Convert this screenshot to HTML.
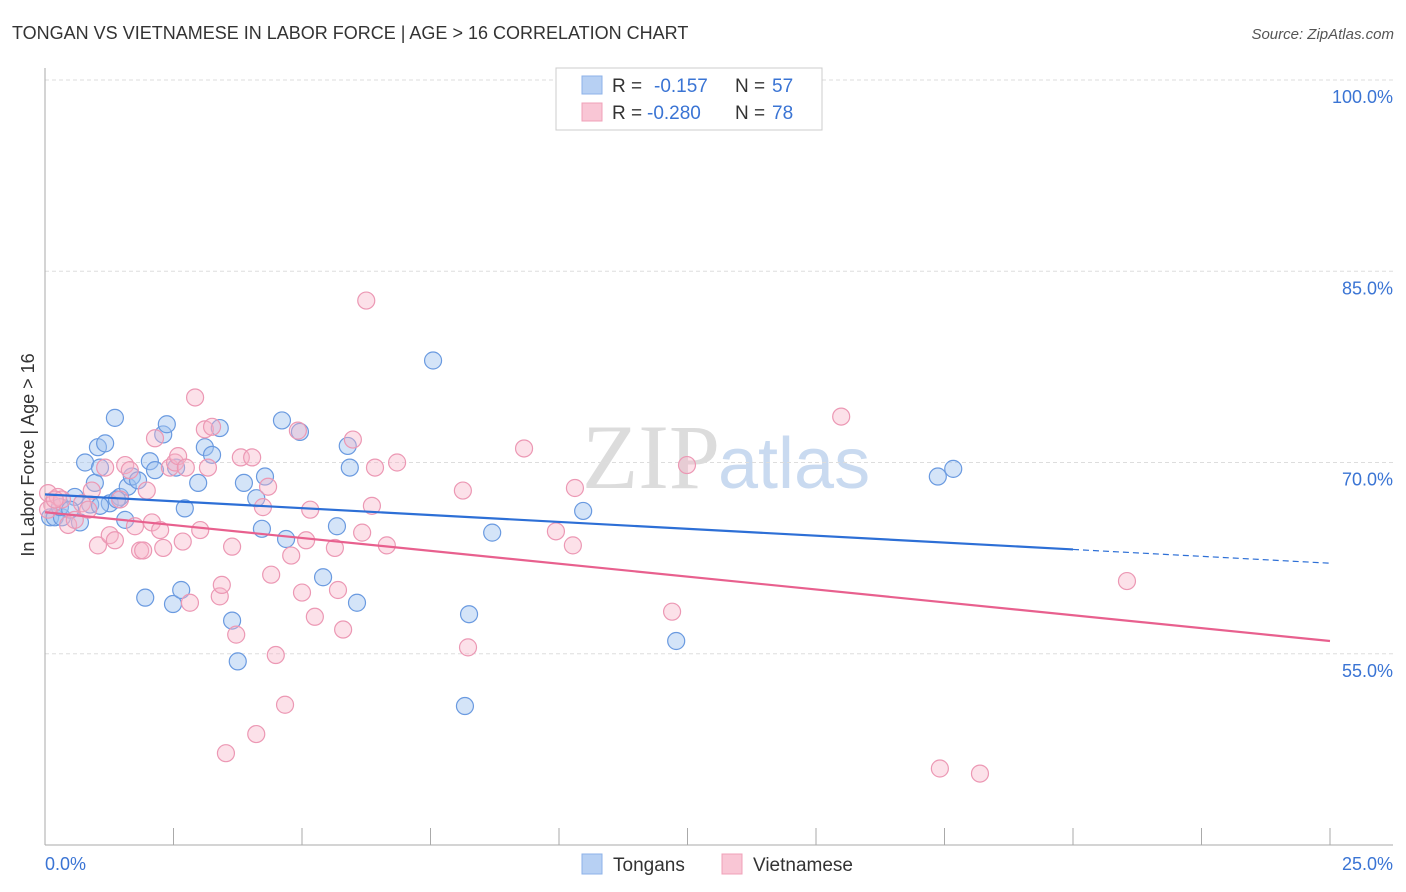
<!DOCTYPE html>
<html><head><meta charset="utf-8"><style>
body{margin:0;background:#fff;font-family:"Liberation Sans",sans-serif;}
svg{display:block}
</style></head><body>
<svg id="chart" width="1406" height="892">
<text x="12" y="39" font-size="18" fill="#333">TONGAN VS VIETNAMESE IN LABOR FORCE | AGE &gt; 16 CORRELATION CHART</text>
<text x="1394" y="39" font-size="15" fill="#555" font-style="italic" text-anchor="end">Source: ZipAtlas.com</text>
<text x="720" y="488" font-size="92" fill="#dcdcdc" text-anchor="end" font-family="Liberation Serif,serif">ZIP</text>
<text x="718" y="488" font-size="72" fill="#c9daf0">atlas</text>
<g id="grid"></g><g id="axes"></g><g id="pts"></g><g id="trend"></g>
<text transform="translate(34,455) rotate(-90)" font-size="18" fill="#333" text-anchor="middle">In Labor Force | Age &gt; 16</text>
<g>
<rect x="556" y="68" width="266" height="62" fill="#fff" stroke="#ccc"/>
<rect x="582" y="76" width="20" height="18" fill="#b7d0f3" stroke="#8cb2e8"/>
<rect x="582" y="103" width="20" height="18" fill="#f9c6d5" stroke="#f0a0b8"/>
<text x="612" y="92" font-size="19" fill="#333">R = </text><text x="654" y="92" font-size="19" fill="#3a74d4">-0.157</text>
<text x="735" y="92" font-size="19" fill="#333">N = </text><text x="772" y="92" font-size="19" fill="#3a74d4">57</text>
<text x="612" y="119" font-size="19" fill="#333">R = </text><text x="647" y="119" font-size="19" fill="#3a74d4">-0.280</text>
<text x="735" y="119" font-size="19" fill="#333">N = </text><text x="772" y="119" font-size="19" fill="#3a74d4">78</text>
</g>
<g>
<rect x="582" y="854" width="20" height="20" fill="#b7d0f3" stroke="#8cb2e8"/>
<text x="613" y="871" font-size="19" fill="#333">Tongans</text>
<rect x="722" y="854" width="20" height="20" fill="#f9c6d5" stroke="#f0a0b8"/>
<text x="753" y="871" font-size="19" fill="#333">Vietnamese</text>
</g>
</svg>
<script>
const yTicks=[55,70,85,100];
const xTickLabels=["0.0%","25.0%"];
const tonganX=[0.10,0.19,0.33,0.58,0.68,0.78,0.97,1.03,1.07,1.17,1.26,1.36,1.46,1.56,1.61,1.69,1.81,1.95,2.04,2.14,2.30,2.37,2.49,2.55,2.65,2.72,2.98,3.11,3.25,3.40,3.64,3.75,3.87,4.11,4.22,4.28,4.61,4.69,4.96,5.41,5.68,5.89,5.93,6.07,7.55,8.17,8.25,8.70,10.47,12.28,17.37,17.67,0.29,0.49,0.88,1.40,1.07];
const tonganY=[65.7,65.7,65.7,67.3,65.3,70.0,68.4,71.2,69.6,71.5,66.8,73.5,67.3,65.5,68.1,68.9,68.6,59.4,70.1,69.4,72.2,73.0,58.9,69.6,60.0,66.4,68.4,71.2,70.6,72.7,57.6,54.4,68.4,67.2,64.8,68.9,73.3,64.0,72.4,61.0,65.0,71.3,69.6,59.0,78.0,50.9,58.1,64.5,66.2,56.0,68.9,69.5,66.5,66.3,66.7,67.1,66.6];
const vietX=[0.06,0.14,0.25,0.33,0.45,0.58,0.72,0.84,0.91,1.03,1.17,1.26,1.36,1.46,1.56,1.65,1.75,1.85,1.91,1.98,2.08,2.14,2.24,2.30,2.43,2.53,2.59,2.68,2.74,2.82,2.92,3.02,3.11,3.17,3.25,3.40,3.44,3.52,3.64,3.72,3.81,4.03,4.11,4.24,4.34,4.40,4.49,4.67,4.79,4.92,5.00,5.08,5.16,5.25,5.64,5.70,5.80,5.99,6.17,6.25,6.36,6.42,6.65,6.85,8.13,8.23,9.32,9.94,10.27,10.31,12.20,12.49,15.49,17.41,18.19,21.05,0.06,0.19];
const vietY=[67.6,66.7,67.3,67.1,65.1,65.5,66.8,66.3,67.8,63.5,69.6,64.3,63.9,67.1,69.8,69.4,65.0,63.1,63.1,67.8,65.3,71.9,64.7,63.3,69.6,70.0,70.5,63.8,69.6,59.0,75.1,64.7,72.6,69.6,72.8,59.5,60.4,47.2,63.4,56.5,70.4,70.4,48.7,66.5,68.1,61.2,54.9,51.0,62.7,72.5,59.8,63.9,66.3,57.9,63.3,60.0,56.9,71.8,64.5,82.7,66.6,69.6,63.5,70.0,67.8,55.5,71.1,64.6,63.5,68.0,58.3,69.8,73.6,46.0,45.6,60.7,66.3,67.1];
const tonganTrend=[67.5,62.1]; // at x=0 and x=25
const vietTrend=[66.1,56.0];
const tonganSolidEnd=20;
const X=v=>45+v*51.4, Y=v=>80+(100-v)*12.75;
const NS="http://www.w3.org/2000/svg";
function mk(tag,parent,attrs){const e=document.createElementNS(NS,tag);for(const k in attrs)e.setAttribute(k,attrs[k]);parent.appendChild(e);return e;}
const grid=document.getElementById('grid'),axes=document.getElementById('axes');
yTicks.forEach(t=>{
 const l=mk('line',grid,{x1:45,x2:1393,y1:Y(t),y2:Y(t),stroke:'#ddd','stroke-dasharray':'4,3'});
 
 
 const tx=mk('text',grid,{x:1393,y:Y(t)+23,'font-size':18,fill:'#3a74d4','text-anchor':'end'});
 tx.textContent=t.toFixed(1)+'%';
 
 
});
const ax=mk('line',axes,{x1:45,x2:45,y1:68,y2:845,stroke:'#aaa'});


const bx=mk('line',axes,{x1:45,x2:1393,y1:845,y2:845,stroke:'#aaa'});


for(let i=0;i<=10;i++){const tk=mk('line',axes,{x1:X(i*2.5),x2:X(i*2.5),y1:828,y2:845,stroke:'#aaa'});
 
 }
[[0,'start',45],[25,'end',1393]].forEach((d,i)=>{const t=mk('text',axes,{x:d[2],y:870,'font-size':18,fill:'#3a74d4','text-anchor':d[1]});t.textContent=xTickLabels[i];
 
 });
const pts=document.getElementById('pts');
tonganX.forEach((x,i)=>{const c=mk('circle',pts,{cx:X(x),cy:Y(tonganY[i]),r:8.5,fill:'rgba(160,196,240,0.45)',stroke:'#6a9ae0','stroke-width':1.2});
 
 });
vietX.forEach((x,i)=>{const c=mk('circle',pts,{cx:X(x),cy:Y(vietY[i]),r:8.5,fill:'rgba(248,180,200,0.4)',stroke:'#ec98b4','stroke-width':1.2});
 
 });
const tr=document.getElementById('trend');
const ty=x=>tonganTrend[0]+(tonganTrend[1]-tonganTrend[0])*x/25;
const l1=mk('line',tr,{x1:X(0),y1:Y(ty(0)),x2:X(tonganSolidEnd),y2:Y(ty(tonganSolidEnd)),stroke:'#2d6fd6','stroke-width':2.2});


const l2=mk('line',tr,{x1:X(tonganSolidEnd),y1:Y(ty(tonganSolidEnd)),x2:X(25),y2:Y(ty(25)),stroke:'#2d6fd6','stroke-width':1.2,'stroke-dasharray':'6,4'});


const l3=mk('line',tr,{x1:X(0),y1:Y(vietTrend[0]),x2:X(25),y2:Y(vietTrend[1]),stroke:'#e8608e','stroke-width':2.2});


</script>
</body></html>
